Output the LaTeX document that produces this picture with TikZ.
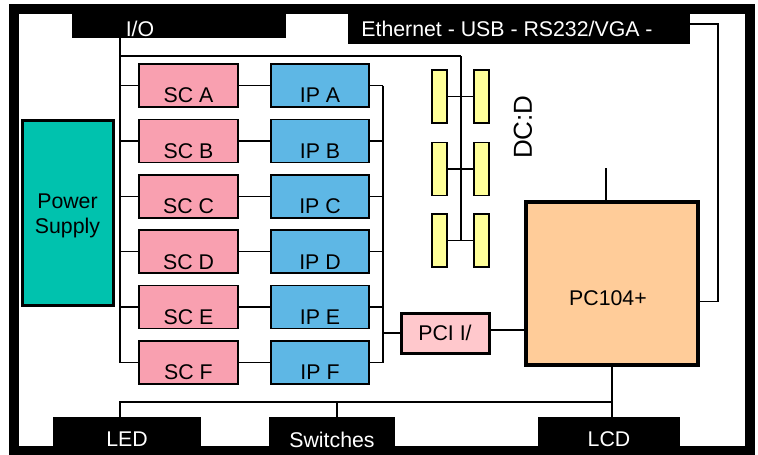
\documentclass[tikz,border=0pt]{standalone}
\usepackage{fontspec}
\setmainfont{Liberation Sans}
\usetikzlibrary{positioning}
\definecolor{scpink}{RGB}{249,160,176}
\definecolor{ipblue}{RGB}{94,183,229}
\definecolor{psteal}{RGB}{0,194,174}
\definecolor{pcipink}{RGB}{255,200,204}
\definecolor{pcorange}{RGB}{255,204,153}
\definecolor{dcyellow}{RGB}{255,255,153}

\begin{document}
\begin{tikzpicture}[x=1pt,y=-1pt,
  txt/.style={font=\fontsize{21.3}{25}\selectfont},
  box/.style={draw,line width=1.6,inner sep=0,txt},
  scbox/.style={box,fill=scpink,minimum width=99,minimum height=43},
  ipbox/.style={box,fill=ipblue,minimum width=98,minimum height=43},
  tab/.style={fill=black,inner sep=0,txt},
  modbox/.style={draw,line width=1.3,fill=dcyellow,minimum width=15,minimum height=53,inner sep=0},
  bus/.style={line width=1.3}]
\useasboundingbox (0,0) rectangle (758,455);
% frame and black tabs
\draw[line width=10] (14,9) rectangle (750,451);
\node[tab,minimum width=214,minimum height=29,label={[white,txt,xshift=-39,yshift=-5]center:I/O}] (io) at (179,23.5) {};
\node[tab,minimum width=342,minimum height=35,label={[white,txt,xshift=-12,yshift=-2]center:Ethernet - USB - RS232/VGA -}] (eth) at (519,26.5) {};
\node[tab,minimum width=148,minimum height=35,label={[white,txt,yshift=-5]center:LED}] (led) at (127,434.5) {};
\node[tab,minimum width=126,minimum height=35,label={[white,txt,yshift=-5]center:Switches}] (sw) at (332,434.5) {};
\node[tab,minimum width=142,minimum height=35,label={[white,txt,yshift=-5]center:LCD}] (lcd) at (609,434.5) {};
% power supply
\node[box,line width=3,fill=psteal,minimum width=91,minimum height=185,label={[txt,align=center,yshift=-3]center:Power\\Supply}] (ps) at (67.5,212.5) {};
% SC and IP chains
\coordinate (lbus) at (io.south -| 120,0);
\coordinate (rbus) at (383,0);
\foreach \l [count=\i from 0] in {A,...,F}{
  \node[scbox,label={[txt,yshift=-10]center:SC \l}] (sc\l) at (188.5,85.5+55.4*\i) {};
  \node[ipbox,label={[txt,yshift=-10]center:IP \l}] (ip\l) at (320,85.5+55.4*\i) {};
  \draw[bus] (sc\l.west -| lbus) -- (sc\l.west);
  \draw[bus] (sc\l.east) -- (ip\l.west);
  \draw[bus] (ip\l.east) -- (ip\l.east -| rbus);
}
\draw[bus] (lbus) -- (lbus |- scF.west);
\draw[bus] (ipA.east -| rbus) -- (ipF.east -| rbus);
% DC:D modules
\coordinate (dtop) at (461,56);
\draw[bus] (lbus |- dtop) -- (dtop);
\foreach \y [count=\j] in {96.5,169,240.5}{
  \node[modbox] (dl\j) at (439.5,\y) {};
  \node[modbox] (dr\j) at (481.5,\y) {};
  \draw[bus] (dl\j.east) -- (dr\j.west);
}
\draw[bus] (dtop) -- (dtop |- dl3.east);
\node[font=\fontsize{26}{30}\selectfont,rotate=90] (dcd) at (523,127) {DC:D};
% PCI and PC104+
\node[box,line width=3,fill=pcipink,minimum width=88,minimum height=40] (pci) at (445,333) {PCI I/};
\node[box,line width=4,fill=pcorange,minimum width=172,minimum height=163,label={[txt,yshift=-15,xshift=-4]center:PC104+}] (pc) at (612,283.5) {};
\draw[bus] (pci.west -| rbus) -- (pci.west);
\draw[bus] ([yshift=3]pci.east) -- ([yshift=3]pci.east -| pc.west);
\draw[bus] ([xshift=-6]pc.north) -- ++(0,-32);
\draw[bus] ([yshift=2.5]eth.east) -- ([yshift=2.5]eth.east -| 718,0) |- ([yshift=-18]pc.east);
% bottom bus
\coordinate (bbus) at (120,402);
\draw[bus] (bbus |- led.north) -- (bbus) -- (bbus -| pc.south) -- (pc.south);
\draw[bus] (pc.south) -- (pc.south |- lcd.north);
\draw[bus] ([xshift=5]sw.north) -- ([xshift=5]sw.north |- bbus);
\end{tikzpicture}
\end{document}
